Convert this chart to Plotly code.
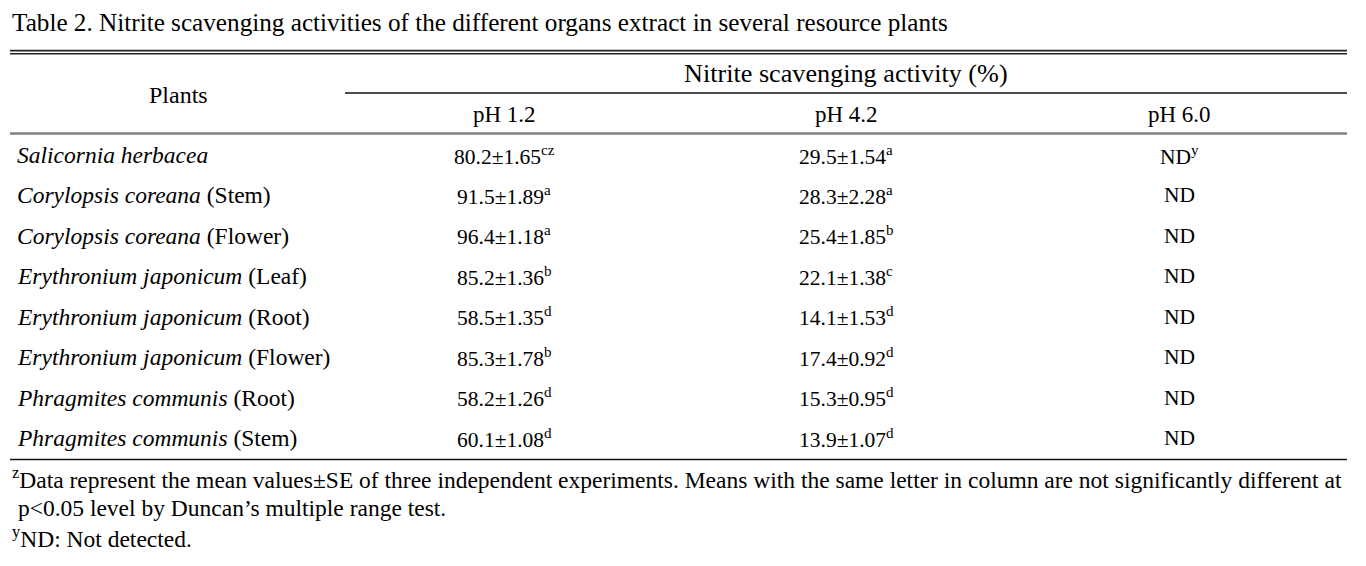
import plotly.graph_objects as go

# ---------------- data ----------------
title = "Table 2. Nitrite scavenging activities of the different organs extract in several resource plants"
group_header = "Nitrite scavenging activity (%)"
row_header = "Plants"
ph_labels = ["pH 1.2", "pH 4.2", "pH 6.0"]

species = ["Salicornia herbacea", "Corylopsis coreana", "Corylopsis coreana",
           "Erythronium japonicum", "Erythronium japonicum", "Erythronium japonicum",
           "Phragmites communis", "Phragmites communis"]
organs = ["", "Stem", "Flower", "Leaf", "Root", "Flower", "Root", "Stem"]

ph12_mean = [80.2, 91.5, 96.4, 85.2, 58.5, 85.3, 58.2, 60.1]
ph12_se = [1.65, 1.89, 1.18, 1.36, 1.35, 1.78, 1.26, 1.08]
ph12_letter = ["c", "a", "a", "b", "d", "b", "d", "d"]
ph12_note = ["z", "", "", "", "", "", "", ""]

ph42_mean = [29.5, 28.3, 25.4, 22.1, 14.1, 17.4, 15.3, 13.9]
ph42_se = [1.54, 2.28, 1.85, 1.38, 1.53, 0.92, 0.95, 1.07]
ph42_letter = ["a", "a", "b", "c", "d", "d", "d", "d"]

ph60_value = ["ND"] * 8
ph60_note = ["y", "", "", "", "", "", "", ""]

footnotes = [
    "<sup>z</sup>Data represent the mean values±SE of three independent experiments. Means with the same letter in column are not significantly different at",
    " p&lt;0.05 level by Duncan’s multiple range test.",
    "<sup>y</sup>ND: Not detected.",
]

# ---------------- layout constants ----------------
W, H = 1366, 566
FONT = "Liberation Serif, Times New Roman, serif"
FS_TEXT = 23.5
FS_NUM = 21.5
left, right = 10, 1347
col_x = [504, 846, 1179]
row_y0, row_dy = 155, 40.45

fig = go.Figure()
fig.add_trace(go.Scatter(x=[0, W], y=[0, H], mode="markers",
                         marker=dict(opacity=0), hoverinfo="skip", showlegend=False))

ann = []

def add_text(x, y, text, anchor="center", size=FS_TEXT):
    ann.append(dict(x=x, y=y, xref="x", yref="y", text=text, showarrow=False,
                    xanchor=anchor, yanchor="middle",
                    font=dict(family=FONT, size=size, color="#000000")))

add_text(left, 22, title, anchor="left", size=25.2)
add_text(col_x[1], 73, group_header, size=26.2)
add_text(178, 95, row_header, size=24)
for cx, lab in zip(col_x, ph_labels):
    add_text(cx, 114, lab, size=23)

for i in range(len(species)):
    y = row_y0 + i * row_dy
    name = f"<i>{species[i]}</i>" + (f" ({organs[i]})" if organs[i] else "")
    add_text(15, y, name, anchor="left", size=FS_TEXT)
    add_text(col_x[0], y, f"{ph12_mean[i]:.1f}±{ph12_se[i]:.2f}<sup>{ph12_letter[i]}{ph12_note[i]}</sup>", size=FS_NUM)
    add_text(col_x[1], y, f"{ph42_mean[i]:.1f}±{ph42_se[i]:.2f}<sup>{ph42_letter[i]}</sup>", size=FS_NUM)
    txt = ph60_value[i] + (f"<sup>{ph60_note[i]}</sup>" if ph60_note[i] else "")
    add_text(col_x[2], y, txt, size=FS_NUM)

for j, fn in enumerate(footnotes):
    add_text(left, 478 + j * 29.5, fn, anchor="left", size=FS_TEXT)

shapes = [
    dict(type="line", xref="x", yref="y", x0=left, x1=right, y0=50.6, y1=50.6,
         line=dict(color="#222222", width=1.6)),
    dict(type="line", xref="x", yref="y", x0=left, x1=right, y0=53.8, y1=53.8,
         line=dict(color="#222222", width=1.6)),
    dict(type="line", xref="x", yref="y", x0=345, x1=right, y0=93, y1=93,
         line=dict(color="#111111", width=1.6)),
    dict(type="line", xref="x", yref="y", x0=left, x1=right, y0=133.5, y1=133.5,
         line=dict(color="#808080", width=2.6)),
    dict(type="line", xref="x", yref="y", x0=left, x1=right, y0=459.5, y1=459.5,
         line=dict(color="#111111", width=1.6)),
]

fig.update_layout(
    width=W, height=H,
    margin=dict(l=0, r=0, t=0, b=0),
    paper_bgcolor="white", plot_bgcolor="white",
    xaxis=dict(range=[0, W], visible=False, fixedrange=True),
    yaxis=dict(range=[H, 0], visible=False, fixedrange=True),
    annotations=ann, shapes=shapes, showlegend=False,
)

fig.write_html(
    "out.html",
    config={"displayModeBar": False},
    post_script="document.body.style.margin='0';document.body.style.overflow='hidden';",
)
